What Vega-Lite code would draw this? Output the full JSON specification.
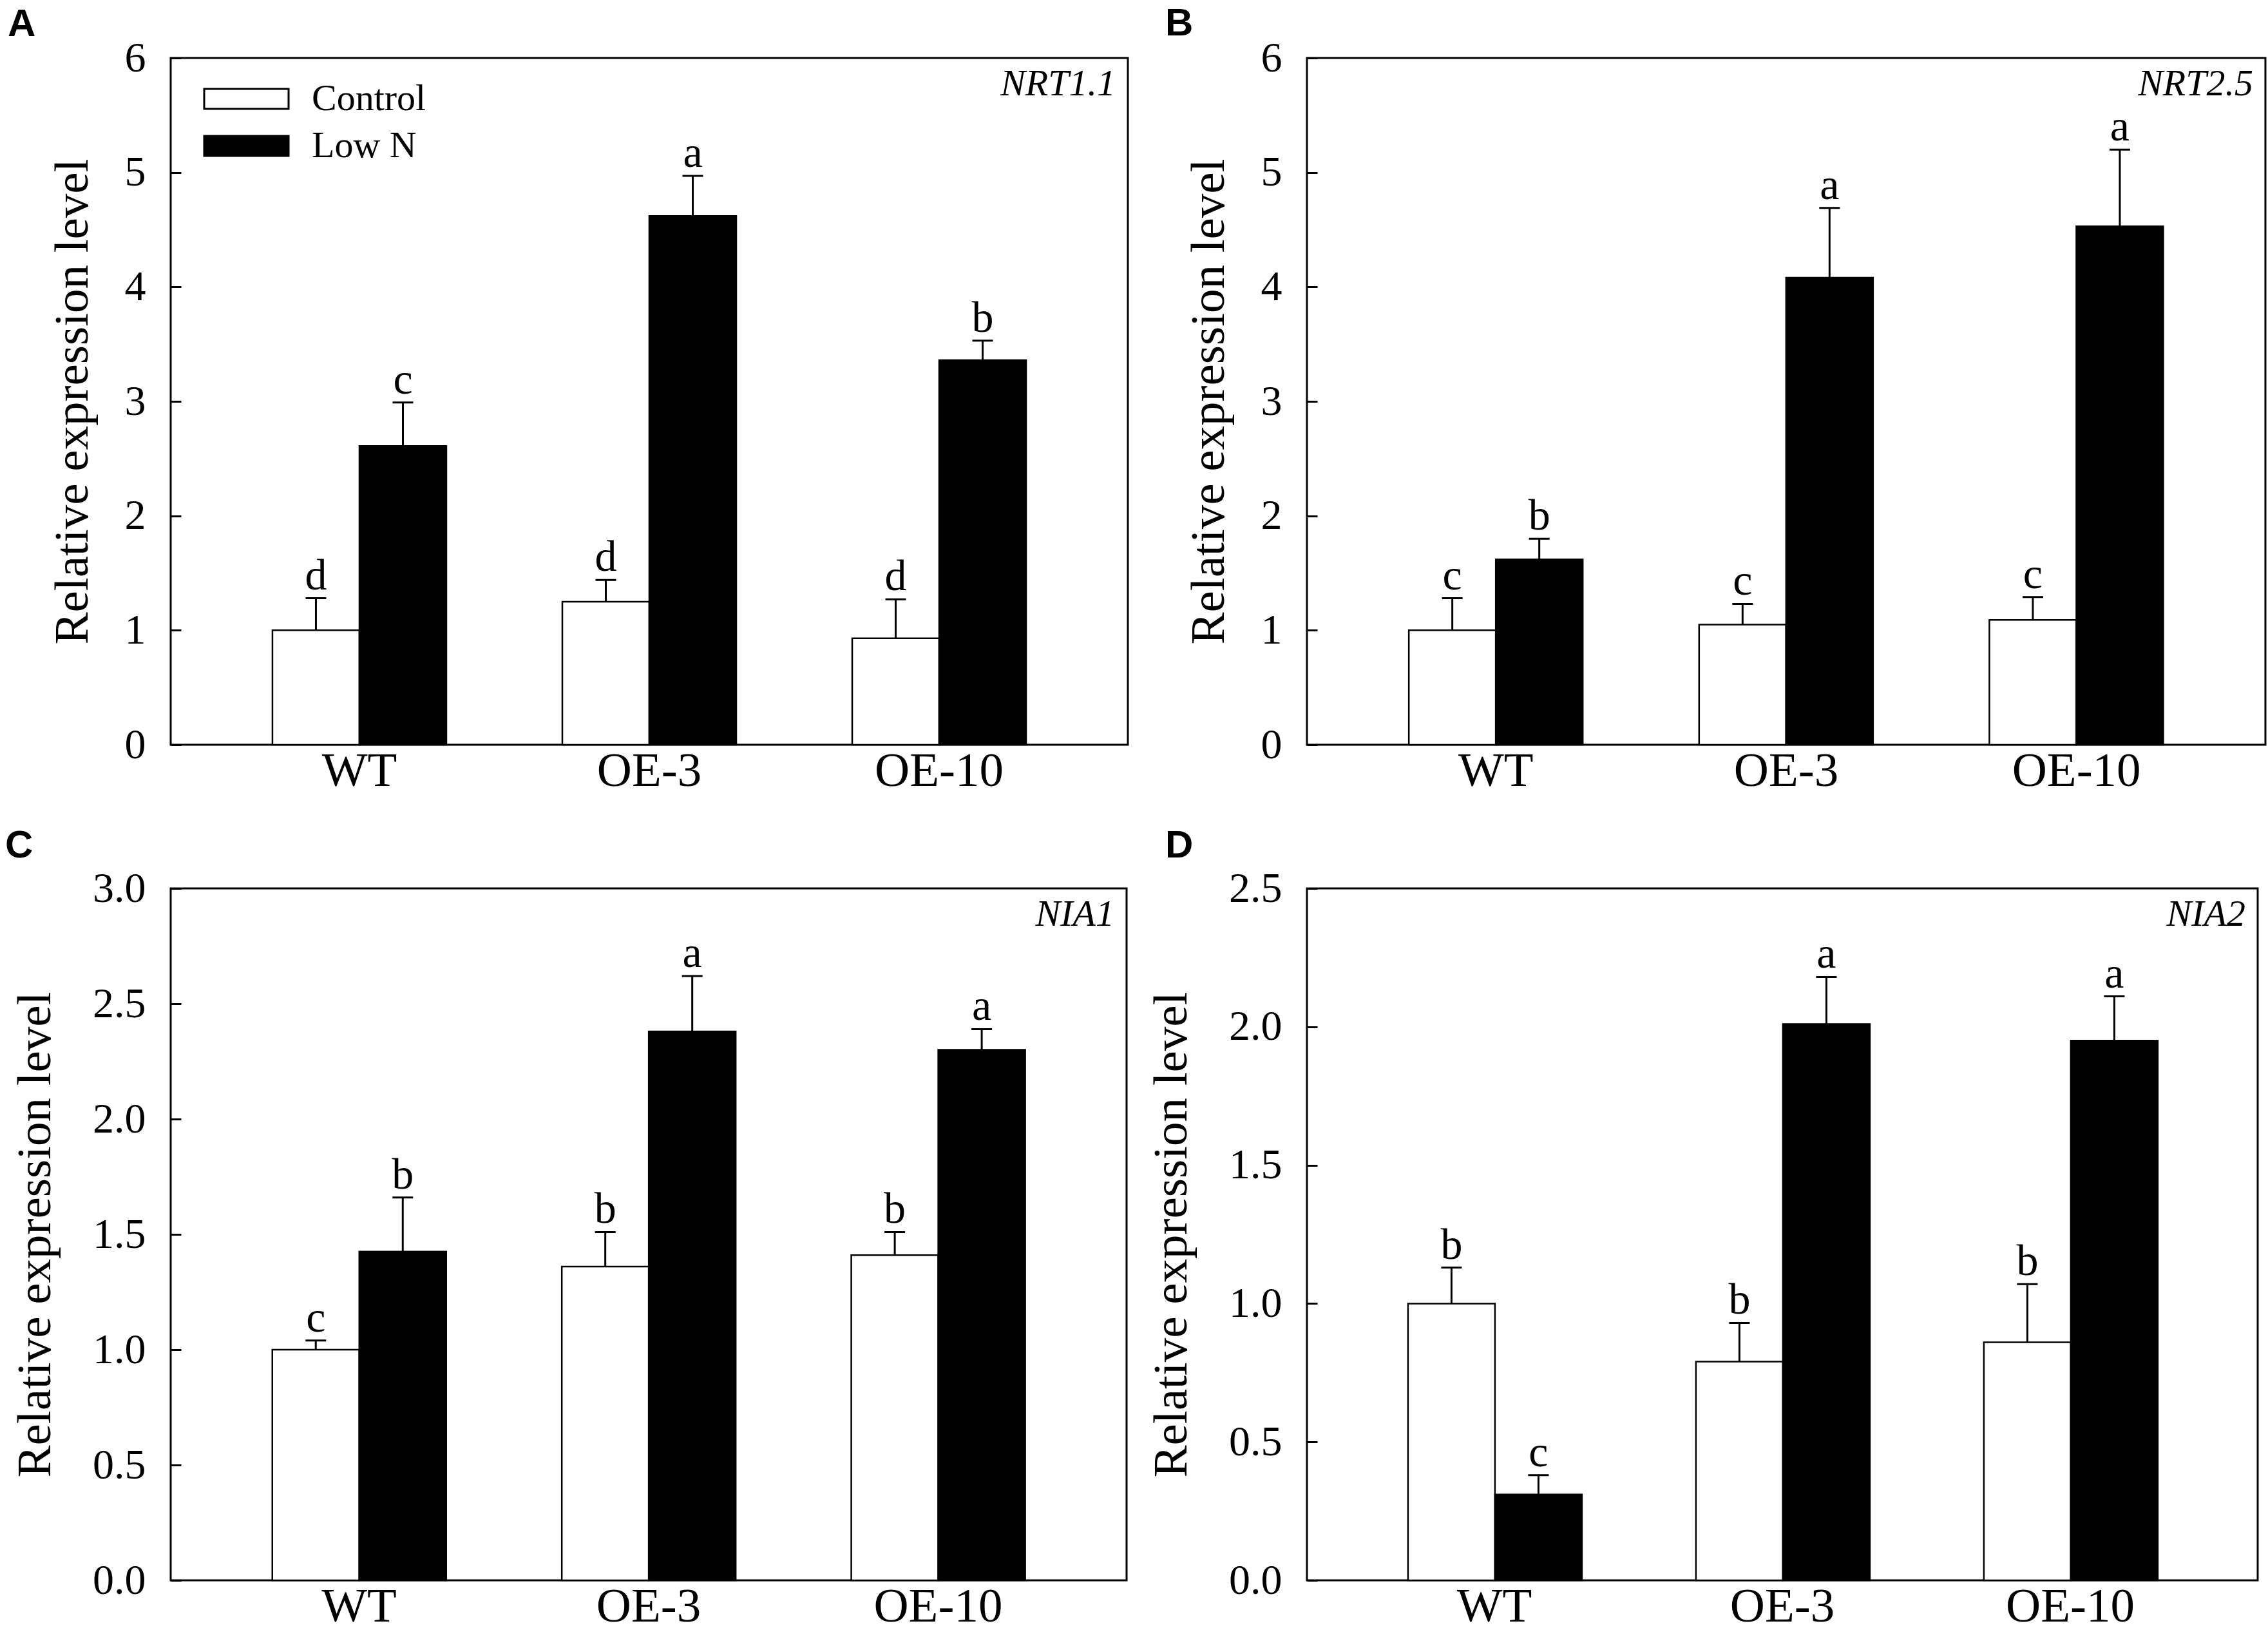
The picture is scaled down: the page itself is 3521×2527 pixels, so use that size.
{
  "$schema": "https://vega.github.io/schema/vega-lite/v6.json",
  "padding": {"left": 6, "top": 5, "right": 0, "bottom": 0},
  "background": "white",
  "columns": 2,
  "spacing": {"row": 215, "column": 276},
  "bounds": "flush",
  "align": "all",
  "datasets": {
    "expr": [
      {"panel": "A", "genotype": "WT", "treatment": "Control", "value": 1.00, "upper": 1.28, "letter": "d"},
      {"panel": "A", "genotype": "WT", "treatment": "Low N", "value": 2.61, "upper": 2.99, "letter": "c"},
      {"panel": "A", "genotype": "OE-3", "treatment": "Control", "value": 1.25, "upper": 1.44, "letter": "d"},
      {"panel": "A", "genotype": "OE-3", "treatment": "Low N", "value": 4.62, "upper": 4.97, "letter": "a"},
      {"panel": "A", "genotype": "OE-10", "treatment": "Control", "value": 0.93, "upper": 1.27, "letter": "d"},
      {"panel": "A", "genotype": "OE-10", "treatment": "Low N", "value": 3.36, "upper": 3.53, "letter": "b"},
      {"panel": "B", "genotype": "WT", "treatment": "Control", "value": 1.00, "upper": 1.28, "letter": "c"},
      {"panel": "B", "genotype": "WT", "treatment": "Low N", "value": 1.62, "upper": 1.80, "letter": "b"},
      {"panel": "B", "genotype": "OE-3", "treatment": "Control", "value": 1.05, "upper": 1.23, "letter": "c"},
      {"panel": "B", "genotype": "OE-3", "treatment": "Low N", "value": 4.08, "upper": 4.69, "letter": "a"},
      {"panel": "B", "genotype": "OE-10", "treatment": "Control", "value": 1.09, "upper": 1.29, "letter": "c"},
      {"panel": "B", "genotype": "OE-10", "treatment": "Low N", "value": 4.53, "upper": 5.20, "letter": "a"},
      {"panel": "C", "genotype": "WT", "treatment": "Control", "value": 1.00, "upper": 1.04, "letter": "c"},
      {"panel": "C", "genotype": "WT", "treatment": "Low N", "value": 1.425, "upper": 1.66, "letter": "b"},
      {"panel": "C", "genotype": "OE-3", "treatment": "Control", "value": 1.36, "upper": 1.51, "letter": "b"},
      {"panel": "C", "genotype": "OE-3", "treatment": "Low N", "value": 2.38, "upper": 2.62, "letter": "a"},
      {"panel": "C", "genotype": "OE-10", "treatment": "Control", "value": 1.41, "upper": 1.51, "letter": "b"},
      {"panel": "C", "genotype": "OE-10", "treatment": "Low N", "value": 2.30, "upper": 2.39, "letter": "a"},
      {"panel": "D", "genotype": "WT", "treatment": "Control", "value": 1.00, "upper": 1.13, "letter": "b"},
      {"panel": "D", "genotype": "WT", "treatment": "Low N", "value": 0.31, "upper": 0.38, "letter": "c"},
      {"panel": "D", "genotype": "OE-3", "treatment": "Control", "value": 0.79, "upper": 0.93, "letter": "b"},
      {"panel": "D", "genotype": "OE-3", "treatment": "Low N", "value": 2.01, "upper": 2.18, "letter": "a"},
      {"panel": "D", "genotype": "OE-10", "treatment": "Control", "value": 0.86, "upper": 1.07, "letter": "b"},
      {"panel": "D", "genotype": "OE-10", "treatment": "Low N", "value": 1.95, "upper": 2.11, "letter": "a"}
    ],
    "genes": [
      {"panel": "A", "gene": "NRT1.1"},
      {"panel": "B", "gene": "NRT2.5"},
      {"panel": "C", "gene": "NIA1"},
      {"panel": "D", "gene": "NIA2"}
    ]
  },
  "concat": [
    {
      "width": 1486, "height": 1066,
      "title": {"text": "A", "dx": -253, "offset": -59, "baseline": "alphabetic"},
      "layer": [
        {
          "data": {"name": "expr"}, "transform": [{"filter": "datum.panel == 'A'"}],
          "mark": {"type": "bar", "stroke": "black", "strokeWidth": 2.5},
          "encoding": {
            "x": {"field": "genotype", "type": "nominal", "sort": ["WT", "OE-3", "OE-10"], "scale": {"paddingInner": 0.4, "paddingOuter": 0.351}, "title": null},
            "xOffset": {"field": "treatment", "type": "nominal", "sort": ["Control", "Low N"], "scale": {"paddingInner": 0, "paddingOuter": 0}},
            "y": {"field": "value", "type": "quantitative", "scale": {"domain": [0, 6], "nice": false}, "axis": {"values": [0, 1, 2, 3, 4, 5, 6], "format": "d", "titlePadding": 42}, "title": "Relative expression level"},
            "fill": {"field": "treatment", "type": "nominal", "scale": {"domain": ["Control", "Low N"], "range": ["white", "black"]},
              "legend": {"orient": "none", "legendX": 84, "legendY": 30, "title": null, "symbolType": "M-2.047,-0.484H2.047V0.484H-2.047Z", "symbolSize": 4096, "symbolStrokeColor": "black", "symbolStrokeWidth": 3, "labelFont": "Liberation Serif", "labelFontSize": 58, "labelColor": "black", "labelOffset": 68, "labelLimit": 0, "rowPadding": 10, "padding": 0}}
          }
        },
        {
          "data": {"name": "expr"}, "transform": [{"filter": "datum.panel == 'A'"}],
          "mark": {"type": "rule", "strokeWidth": 3, "color": "black"},
          "encoding": {
            "x": {"field": "genotype", "type": "nominal", "sort": ["WT", "OE-3", "OE-10"], "title": null},
            "xOffset": {"field": "treatment", "type": "nominal", "sort": ["Control", "Low N"]},
            "y": {"field": "value", "type": "quantitative", "title": "Relative expression level"},
            "y2": {"field": "upper"}
          }
        },
        {
          "data": {"name": "expr"}, "transform": [{"filter": "datum.panel == 'A'"}],
          "mark": {"type": "tick", "size": 32, "thickness": 3, "color": "black", "opacity": 1},
          "encoding": {
            "x": {"field": "genotype", "type": "nominal", "sort": ["WT", "OE-3", "OE-10"], "title": null},
            "xOffset": {"field": "treatment", "type": "nominal", "sort": ["Control", "Low N"]},
            "y": {"field": "upper", "type": "quantitative", "title": "Relative expression level"}
          }
        },
        {
          "data": {"name": "expr"}, "transform": [{"filter": "datum.panel == 'A'"}],
          "mark": {"type": "text", "baseline": "alphabetic", "dy": -14, "fontSize": 68, "font": "Liberation Serif", "color": "black"},
          "encoding": {
            "x": {"field": "genotype", "type": "nominal", "sort": ["WT", "OE-3", "OE-10"], "title": null},
            "xOffset": {"field": "treatment", "type": "nominal", "sort": ["Control", "Low N"]},
            "y": {"field": "upper", "type": "quantitative", "title": "Relative expression level"},
            "text": {"field": "letter"}
          }
        },
        {
          "data": {"name": "genes"}, "transform": [{"filter": "datum.panel == 'A'"}],
          "mark": {"type": "text", "align": "right", "baseline": "alphabetic", "dx": -19, "dy": 58, "fontStyle": "italic", "fontSize": 58, "font": "Liberation Serif", "color": "black"},
          "encoding": {"x": {"value": "width"}, "y": {"value": 0}, "text": {"field": "gene"}}
        }
      ]
    },
    {
      "width": 1488, "height": 1066,
      "title": {"text": "B", "dx": -220, "offset": -58, "baseline": "alphabetic"},
      "layer": [
        {
          "data": {"name": "expr"}, "transform": [{"filter": "datum.panel == 'B'"}],
          "mark": {"type": "bar", "stroke": "black", "strokeWidth": 2.5},
          "encoding": {
            "x": {"field": "genotype", "type": "nominal", "sort": ["WT", "OE-3", "OE-10"], "scale": {"paddingInner": 0.4, "paddingOuter": 0.351}, "title": null},
            "xOffset": {"field": "treatment", "type": "nominal", "sort": ["Control", "Low N"], "scale": {"paddingInner": 0, "paddingOuter": 0}},
            "y": {"field": "value", "type": "quantitative", "scale": {"domain": [0, 6], "nice": false}, "axis": {"values": [0, 1, 2, 3, 4, 5, 6], "format": "d", "titlePadding": 42}, "title": "Relative expression level"},
            "fill": {"field": "treatment", "type": "nominal", "scale": {"domain": ["Control", "Low N"], "range": ["white", "black"]}, "legend": null}
          }
        },
        {
          "data": {"name": "expr"}, "transform": [{"filter": "datum.panel == 'B'"}],
          "mark": {"type": "rule", "strokeWidth": 3, "color": "black"},
          "encoding": {
            "x": {"field": "genotype", "type": "nominal", "sort": ["WT", "OE-3", "OE-10"], "title": null},
            "xOffset": {"field": "treatment", "type": "nominal", "sort": ["Control", "Low N"]},
            "y": {"field": "value", "type": "quantitative", "title": "Relative expression level"},
            "y2": {"field": "upper"}
          }
        },
        {
          "data": {"name": "expr"}, "transform": [{"filter": "datum.panel == 'B'"}],
          "mark": {"type": "tick", "size": 32, "thickness": 3, "color": "black", "opacity": 1},
          "encoding": {
            "x": {"field": "genotype", "type": "nominal", "sort": ["WT", "OE-3", "OE-10"], "title": null},
            "xOffset": {"field": "treatment", "type": "nominal", "sort": ["Control", "Low N"]},
            "y": {"field": "upper", "type": "quantitative", "title": "Relative expression level"}
          }
        },
        {
          "data": {"name": "expr"}, "transform": [{"filter": "datum.panel == 'B'"}],
          "mark": {"type": "text", "baseline": "alphabetic", "dy": -14, "fontSize": 68, "font": "Liberation Serif", "color": "black"},
          "encoding": {
            "x": {"field": "genotype", "type": "nominal", "sort": ["WT", "OE-3", "OE-10"], "title": null},
            "xOffset": {"field": "treatment", "type": "nominal", "sort": ["Control", "Low N"]},
            "y": {"field": "upper", "type": "quantitative", "title": "Relative expression level"},
            "text": {"field": "letter"}
          }
        },
        {
          "data": {"name": "genes"}, "transform": [{"filter": "datum.panel == 'B'"}],
          "mark": {"type": "text", "align": "right", "baseline": "alphabetic", "dx": -19, "dy": 58, "fontStyle": "italic", "fontSize": 58, "font": "Liberation Serif", "color": "black"},
          "encoding": {"x": {"value": "width"}, "y": {"value": 0}, "text": {"field": "gene"}}
        }
      ]
    },
    {
      "width": 1484, "height": 1074,
      "title": {"text": "C", "dx": -257, "offset": -45, "baseline": "alphabetic"},
      "layer": [
        {
          "data": {"name": "expr"}, "transform": [{"filter": "datum.panel == 'C'"}],
          "mark": {"type": "bar", "stroke": "black", "strokeWidth": 2.5},
          "encoding": {
            "x": {"field": "genotype", "type": "nominal", "sort": ["WT", "OE-3", "OE-10"], "scale": {"paddingInner": 0.4, "paddingOuter": 0.351}, "title": null},
            "xOffset": {"field": "treatment", "type": "nominal", "sort": ["Control", "Low N"], "scale": {"paddingInner": 0, "paddingOuter": 0}},
            "y": {"field": "value", "type": "quantitative", "scale": {"domain": [0, 3], "nice": false}, "axis": {"values": [0, 0.5, 1, 1.5, 2, 2.5, 3], "format": ".1f", "titlePadding": 50}, "title": "Relative expression level"},
            "fill": {"field": "treatment", "type": "nominal", "scale": {"domain": ["Control", "Low N"], "range": ["white", "black"]}, "legend": null}
          }
        },
        {
          "data": {"name": "expr"}, "transform": [{"filter": "datum.panel == 'C'"}],
          "mark": {"type": "rule", "strokeWidth": 3, "color": "black"},
          "encoding": {
            "x": {"field": "genotype", "type": "nominal", "sort": ["WT", "OE-3", "OE-10"], "title": null},
            "xOffset": {"field": "treatment", "type": "nominal", "sort": ["Control", "Low N"]},
            "y": {"field": "value", "type": "quantitative", "title": "Relative expression level"},
            "y2": {"field": "upper"}
          }
        },
        {
          "data": {"name": "expr"}, "transform": [{"filter": "datum.panel == 'C'"}],
          "mark": {"type": "tick", "size": 32, "thickness": 3, "color": "black", "opacity": 1},
          "encoding": {
            "x": {"field": "genotype", "type": "nominal", "sort": ["WT", "OE-3", "OE-10"], "title": null},
            "xOffset": {"field": "treatment", "type": "nominal", "sort": ["Control", "Low N"]},
            "y": {"field": "upper", "type": "quantitative", "title": "Relative expression level"}
          }
        },
        {
          "data": {"name": "expr"}, "transform": [{"filter": "datum.panel == 'C'"}],
          "mark": {"type": "text", "baseline": "alphabetic", "dy": -14, "fontSize": 68, "font": "Liberation Serif", "color": "black"},
          "encoding": {
            "x": {"field": "genotype", "type": "nominal", "sort": ["WT", "OE-3", "OE-10"], "title": null},
            "xOffset": {"field": "treatment", "type": "nominal", "sort": ["Control", "Low N"]},
            "y": {"field": "upper", "type": "quantitative", "title": "Relative expression level"},
            "text": {"field": "letter"}
          }
        },
        {
          "data": {"name": "genes"}, "transform": [{"filter": "datum.panel == 'C'"}],
          "mark": {"type": "text", "align": "right", "baseline": "alphabetic", "dx": -19, "dy": 58, "fontStyle": "italic", "fontSize": 58, "font": "Liberation Serif", "color": "black"},
          "encoding": {"x": {"value": "width"}, "y": {"value": 0}, "text": {"field": "gene"}}
        }
      ]
    },
    {
      "width": 1476, "height": 1074,
      "title": {"text": "D", "dx": -220, "offset": -45, "baseline": "alphabetic"},
      "layer": [
        {
          "data": {"name": "expr"}, "transform": [{"filter": "datum.panel == 'D'"}],
          "mark": {"type": "bar", "stroke": "black", "strokeWidth": 2.5},
          "encoding": {
            "x": {"field": "genotype", "type": "nominal", "sort": ["WT", "OE-3", "OE-10"], "scale": {"paddingInner": 0.4, "paddingOuter": 0.351}, "title": null},
            "xOffset": {"field": "treatment", "type": "nominal", "sort": ["Control", "Low N"], "scale": {"paddingInner": 0, "paddingOuter": 0}},
            "y": {"field": "value", "type": "quantitative", "scale": {"domain": [0, 2.5], "nice": false}, "axis": {"values": [0, 0.5, 1, 1.5, 2, 2.5], "format": ".1f", "titlePadding": 50}, "title": "Relative expression level"},
            "fill": {"field": "treatment", "type": "nominal", "scale": {"domain": ["Control", "Low N"], "range": ["white", "black"]}, "legend": null}
          }
        },
        {
          "data": {"name": "expr"}, "transform": [{"filter": "datum.panel == 'D'"}],
          "mark": {"type": "rule", "strokeWidth": 3, "color": "black"},
          "encoding": {
            "x": {"field": "genotype", "type": "nominal", "sort": ["WT", "OE-3", "OE-10"], "title": null},
            "xOffset": {"field": "treatment", "type": "nominal", "sort": ["Control", "Low N"]},
            "y": {"field": "value", "type": "quantitative", "title": "Relative expression level"},
            "y2": {"field": "upper"}
          }
        },
        {
          "data": {"name": "expr"}, "transform": [{"filter": "datum.panel == 'D'"}],
          "mark": {"type": "tick", "size": 32, "thickness": 3, "color": "black", "opacity": 1},
          "encoding": {
            "x": {"field": "genotype", "type": "nominal", "sort": ["WT", "OE-3", "OE-10"], "title": null},
            "xOffset": {"field": "treatment", "type": "nominal", "sort": ["Control", "Low N"]},
            "y": {"field": "upper", "type": "quantitative", "title": "Relative expression level"}
          }
        },
        {
          "data": {"name": "expr"}, "transform": [{"filter": "datum.panel == 'D'"}],
          "mark": {"type": "text", "baseline": "alphabetic", "dy": -14, "fontSize": 68, "font": "Liberation Serif", "color": "black"},
          "encoding": {
            "x": {"field": "genotype", "type": "nominal", "sort": ["WT", "OE-3", "OE-10"], "title": null},
            "xOffset": {"field": "treatment", "type": "nominal", "sort": ["Control", "Low N"]},
            "y": {"field": "upper", "type": "quantitative", "title": "Relative expression level"},
            "text": {"field": "letter"}
          }
        },
        {
          "data": {"name": "genes"}, "transform": [{"filter": "datum.panel == 'D'"}],
          "mark": {"type": "text", "align": "right", "baseline": "alphabetic", "dx": -19, "dy": 58, "fontStyle": "italic", "fontSize": 58, "font": "Liberation Serif", "color": "black"},
          "encoding": {"x": {"value": "width"}, "y": {"value": 0}, "text": {"field": "gene"}}
        }
      ]
    }
  ],
  "config": {
    "font": "Liberation Serif",
    "view": {"stroke": "black", "strokeWidth": 3},
    "axis": {"grid": false, "domain": false, "labelFont": "Liberation Serif", "titleFont": "Liberation Serif", "labelColor": "black", "titleColor": "black", "titleFontWeight": "normal", "labelLimit": 0},
    "axisX": {"ticks": false, "labelFontSize": 75, "labelPadding": 4, "labelAngle": 0},
    "axisY": {"tickSize": -16, "tickWidth": 3, "tickColor": "black", "labelFontSize": 66, "labelPadding": 55, "titleFontSize": 75},
    "title": {"font": "Liberation Sans", "fontWeight": "bold", "fontSize": 60, "color": "black", "anchor": "start", "frame": "group"}
  }
}
